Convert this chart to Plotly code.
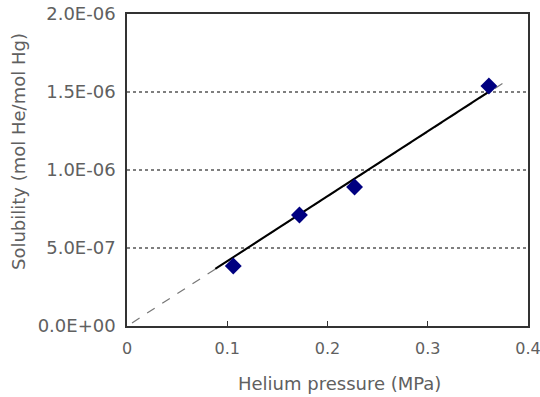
import plotly.graph_objects as go

pressure = [0.106, 0.172, 0.227, 0.361]
solubility = [3.85e-7, 7.12e-7, 8.91e-7, 1.538e-6]

fit_x = [0.088, 0.363]
fit_y = [3.66e-7, 1.51e-6]

ext_x = [0.005, 0.382]
ext_y = [0.2e-7, 1.585e-6]

y_ticks = [0, 5e-7, 1e-6, 1.5e-6, 2e-6]
y_labels = ["0.0E+00", "5.0E-07", "1.0E-06", "1.5E-06", "2.0E-06"]
x_ticks = [0, 0.1, 0.2, 0.3, 0.4]
x_labels = ["0", "0.1", "0.2", "0.3", "0.4"]

x_title = "Helium pressure (MPa)"
y_title = "Solubility (mol He/mol Hg)"

font_family = "DejaVu Sans, sans-serif"
txt = "#606060"

fig = go.Figure()
for g in [5e-7, 1e-6, 1.5e-6]:
    fig.add_shape(type="line", xref="x", yref="y", x0=0, x1=0.4, y0=g, y1=g,
                  line=dict(color="#555555", width=1.3, dash="dot"), layer="below")

fig.add_trace(go.Scatter(x=ext_x, y=ext_y, mode="lines",
                         line=dict(color="#777777", width=1.2, dash="dash"), showlegend=False))
fig.add_trace(go.Scatter(x=fit_x, y=fit_y, mode="lines",
                         line=dict(color="#000000", width=2), showlegend=False))
fig.add_trace(go.Scatter(x=pressure, y=solubility, mode="markers",
                         marker=dict(symbol="diamond", size=13, color="#000080"), showlegend=False))

fig.add_annotation(text=x_title, xref="paper", yref="paper", x=0.5287, y=-0.1827,
                   xanchor="center", yanchor="middle", showarrow=False,
                   font=dict(size=18, color=txt, family=font_family))
fig.add_annotation(text=y_title, xref="paper", yref="paper", x=-0.2693, y=0.5577,
                   xanchor="center", yanchor="middle", showarrow=False, textangle=-90,
                   font=dict(size=18, color=txt, family=font_family))

fig.update_layout(
    width=540, height=397,
    margin=dict(l=127, r=12, t=14, b=71),
    paper_bgcolor="white", plot_bgcolor="white",
    font=dict(family=font_family, color=txt, size=18),
    xaxis=dict(range=[0, 0.4], tickvals=x_ticks, ticktext=x_labels, automargin=False,
               showgrid=False, zeroline=False, showline=True, mirror=True,
               linecolor="#333333", linewidth=1.5, ticks="inside", ticklen=5,
               tickcolor="#333333", ticklabeloverflow="allow", ticklabelstandoff=7,
               tickfont=dict(size=16, color=txt)),
    yaxis=dict(range=[0, 2e-6], tickvals=y_ticks, ticktext=y_labels, automargin=False,
               showgrid=False, zeroline=False, showline=True, mirror=True,
               linecolor="#333333", linewidth=1.5, ticks="",
               ticklabeloverflow="allow", ticklabelstandoff=6,
               tickfont=dict(size=18, color=txt)),
)

fig.write_html("out.html", config={"displayModeBar": False},
               post_script="document.body.style.margin='0';")
